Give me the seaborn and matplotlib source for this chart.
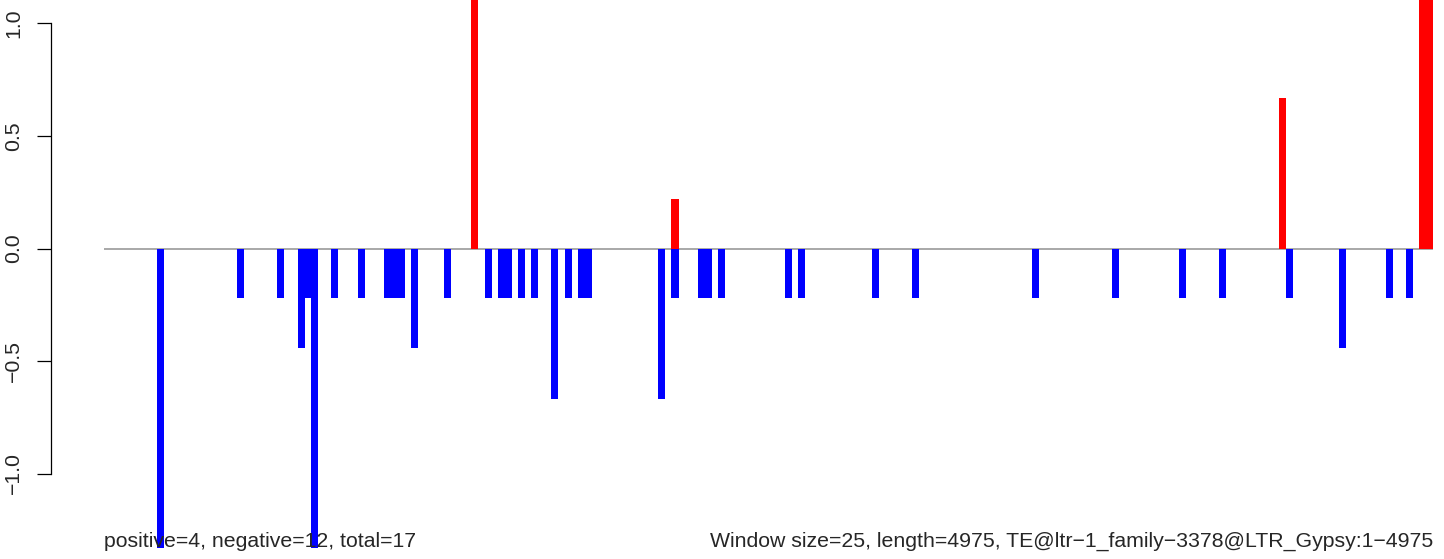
import matplotlib
matplotlib.use("Agg")
import matplotlib.pyplot as plt
import numpy as np
import pandas as pd
import seaborn as sns

# Window size=25 over length 4975 -> 199 windows
n_windows = 199

# windows with a negative score (0-based window index) and their values
neg_windows = [8, 20, 26, 29, 30, 31, 34, 38, 42, 43, 44, 46, 51, 57, 59, 60,
               62, 64, 67, 69, 71, 72, 83, 85, 89, 90, 92, 102, 104, 115, 121,
               139, 151, 161, 167, 177, 185, 192, 195]
neg_values = [-1.333, -0.222, -0.222, -0.444, -0.222, -1.333, -0.222, -0.222,
              -0.222, -0.222, -0.222, -0.444, -0.222, -0.222, -0.222, -0.222,
              -0.222, -0.222, -0.667, -0.222, -0.222, -0.222, -0.667, -0.222,
              -0.222, -0.222, -0.222, -0.222, -0.222, -0.222, -0.222, -0.222,
              -0.222, -0.222, -0.222, -0.222, -0.444, -0.222, -0.222]

# windows with a positive score
pos_windows = [55, 85, 176, 197, 198]
pos_values = [1.333, 0.222, 0.667, 1.333, 1.333]

left_note = "positive=4, negative=12, total=17"
right_note = "Window size=25, length=4975, TE@ltr\u22121_family\u22123378@LTR_Gypsy:1\u22124975"

# full per-window series
windows = np.arange(n_windows)
neg_full = np.zeros(n_windows)
neg_full[neg_windows] = neg_values
pos_full = np.zeros(n_windows)
pos_full[pos_windows] = pos_values
df = pd.DataFrame({"window": windows, "neg": neg_full, "pos": pos_full})

sns.set_style("white")
plt.rcParams["font.family"] = ["Liberation Sans", "DejaVu Sans"]
plt.rcParams["font.size"] = 15.3

W, H = 1444, 559
fig = plt.figure(figsize=(W / 100, H / 100), dpi=100)
ax = fig.add_axes([104 / W, 0, (1433 - 104) / W, 1])

ax.axhline(0, color="#999999", lw=1.2, zorder=0)
sns.barplot(data=df, x="window", y="neg", color="blue", saturation=1,
            width=1.05, linewidth=0, errorbar=None, ax=ax)
sns.barplot(data=df, x="window", y="pos", color="red", saturation=1,
            width=1.05, linewidth=0, errorbar=None, ax=ax)

# 0 sits at pixel row 248.5, 225 px per unit
ax.set_ylim(-(H - 248.5) / 225, 248.5 / 225)
ax.set_xlim(-0.5, n_windows - 0.5)
ax.set_xticks([])
ax.set_xlabel("")
ax.set_ylabel("")

for s in ["top", "right", "bottom"]:
    ax.spines[s].set_visible(False)
ax.spines["left"].set_position(("outward", 38))
ax.spines["left"].set_bounds(-1, 1)
ax.spines["left"].set_color("black")
ax.spines["left"].set_linewidth(0.9)
ax.set_yticks([-1.0, -0.5, 0.0, 0.5, 1.0])
ax.set_yticklabels(["\u22121.0", "\u22120.5", "0.0", "0.5", "1.0"],
                   rotation=90, va="center")
ax.tick_params(axis="y", left=True, length=10, width=0.9, color="black",
               pad=10, labelsize=15.3)

fig.text(104 / W, 12 / H, left_note, ha="left", va="baseline", fontsize=15.3)
fig.text(1433 / W, 12 / H, right_note, ha="right", va="baseline", fontsize=15.3)

fig.savefig("out.png", dpi=100, facecolor="white")
